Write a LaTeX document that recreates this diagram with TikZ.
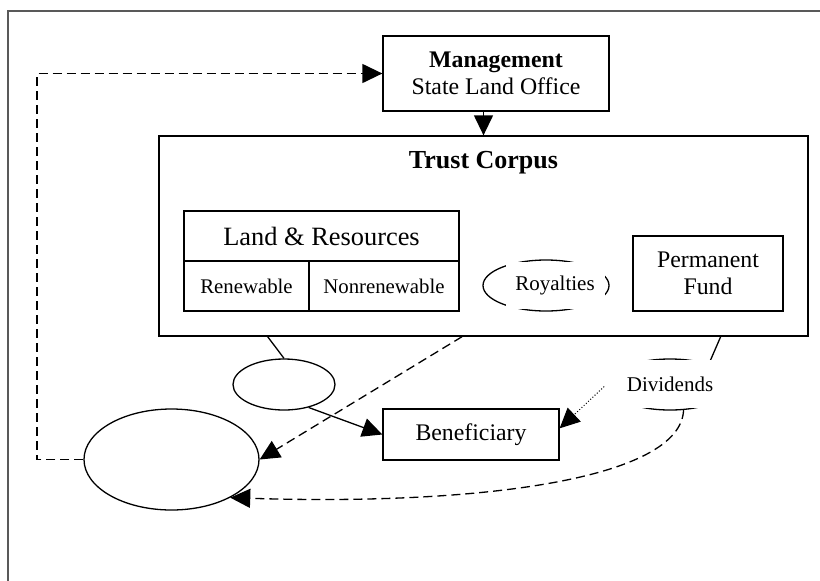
\documentclass[tikz,border=0pt]{standalone}
\usepackage{fontspec}
\setmainfont{Liberation Serif}
\usetikzlibrary{arrows.meta,shapes.geometric}

\begin{document}
\begin{tikzpicture}[x=0.5pt,y=-0.5pt,
  box/.style={draw,line width=0.65pt,inner sep=0pt,font=\fontsize{11.9}{13.5}\selectfont},
  oval/.style={draw,ellipse,line width=0.65pt,inner sep=0pt},
  tag/.style={fill=white,inner sep=0pt,minimum height=23.5pt,font=\fontsize{10.5}{12}\selectfont},
  tip/.style={-{Triangle[length=10pt,width=9.5pt]}},
  dashline/.style={line width=0.65pt,dash pattern=on 4.5pt off 2.5pt}]
  \useasboundingbox (0,0) rectangle (820,580);
  \draw[black!65,line width=0.6pt] (8,11) rectangle (840,600);
  \node[box,minimum width=113pt,minimum height=37.5pt,align=center] (mgmt) at (496,73.5) {\textbf{Management}\\State Land Office};
  \node[box,minimum width=324.5pt,minimum height=100pt] (corpus) at (483.5,236) {};
  \node[font=\fontsize{13}{15}\selectfont\bfseries] (title) at (483.5,163) {Trust Corpus};
  \node[box,minimum width=137.5pt,minimum height=25pt,font=\fontsize{13.2}{15}\selectfont] (land) at (321.5,236) {Land \& Resources};
  \node[box,minimum width=62.5pt,minimum height=25pt,font=\fontsize{10.4}{12}\selectfont] (renew) at (246.5,286) {Renewable};
  \node[box,minimum width=75pt,minimum height=25pt,font=\fontsize{10.4}{12}\selectfont] (nonrenew) at (384,286) {Nonrenewable};
  \node[oval,minimum width=63pt,minimum height=25.5pt] (roy) at (546,285.5) {};
  \node[box,minimum width=75pt,minimum height=37.5pt,align=center] (fund) at (708,273.5) {Permanent\\Fund};
  \node[oval,minimum width=51pt,minimum height=25.5pt] (small) at (284,384.5) {};
  \node[oval,minimum width=63pt,minimum height=25.5pt] (divid) at (670,384.5) {};
  \node[oval,minimum width=87.5pt,minimum height=50.5pt] (large) at (171.5,459.5) {};
  \node[box,minimum width=88pt,minimum height=25.5pt] (benef) at (471,434.5) {Beneficiary};
  \coordinate (corner) at (37,73.5);

  \draw[tip,line width=0.65pt] (mgmt.south -| corpus.north) -- (corpus.north);
  \draw[line width=0.65pt] (corpus.205) -- (small.north);
  \draw[line width=0.65pt] (corpus.337) -- (divid.28);
  \draw[tip,line width=0.65pt] (small.-43) -- (benef.west);
  \draw[tip,dashline] (corpus.258) -- (large.east);
  \draw[tip,dashline] (large.west) -| (corner) -- (mgmt.west);
  \draw[tip,line width=0.5pt,densely dotted] (divid.west) -- (benef.4);
  \draw[tip,dashline] (divid.-62) .. controls +(-3,70) and +(245,8) .. (large.-33);

  \node[tag,minimum width=49.5pt] (roylabel) at (555,285.5) {Royalties};
  \node[tag,minimum width=65pt,minimum height=24pt] (dividlabel) at (670,384) {Dividends};
\end{tikzpicture}
\end{document}
